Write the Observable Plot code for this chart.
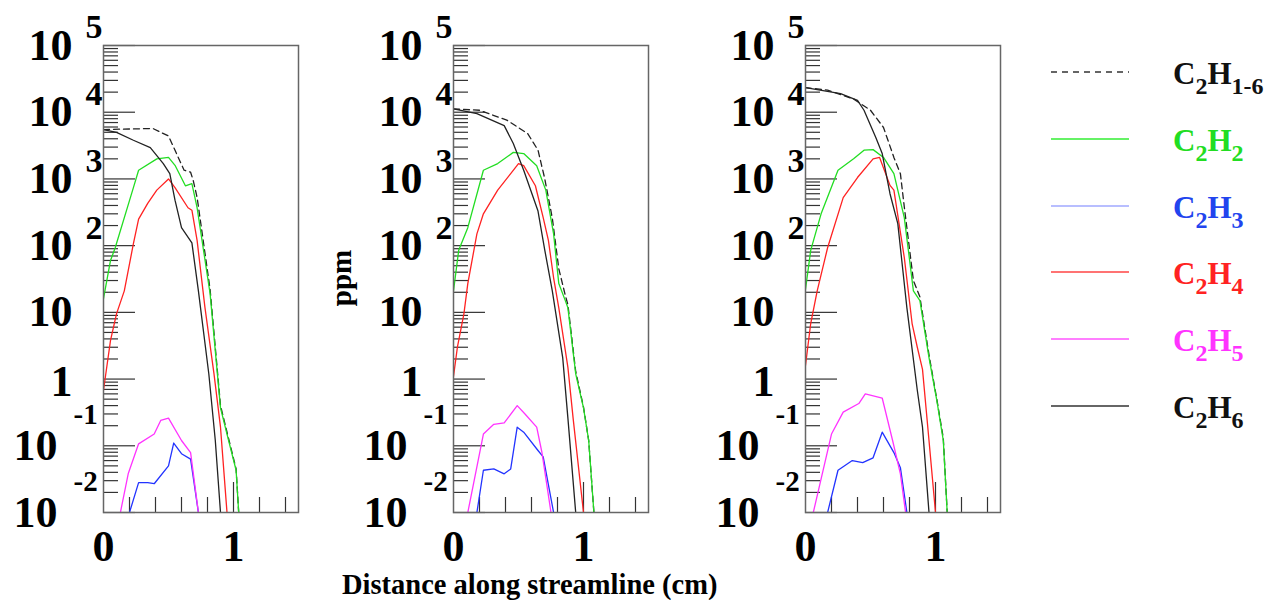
<!DOCTYPE html>
<html><head><meta charset="utf-8">
<script src="https://cdn.jsdelivr.net/npm/d3@7"></script>
<script src="https://cdn.jsdelivr.net/npm/@observablehq/plot@0.6"></script>
<style>
body{margin:0;background:#fff;}
#wrap{position:relative;width:1265px;height:600px;overflow:hidden;font-family:"Liberation Serif","Times New Roman",serif;font-weight:bold;}
.panel{position:absolute;top:0;}
#xtitle{position:absolute;left:342px;top:571px;white-space:nowrap;font-size:28.5px;line-height:1;}
#ytitle{position:absolute;left:341px;top:278px;transform:translate(-50%,-50%) rotate(-90deg);white-space:nowrap;font-size:29px;line-height:1;}
#legend{position:absolute;left:1030px;top:0;}
</style></head><body>
<div id="wrap"><div id="xtitle">Distance along streamline (cm)</div><div id="ytitle">ppm</div></div>
<script>
// ---------- axis definitions ----------
const xDomain = [0, 1.5];
const yDomain = [0.01, 1e5];
const yDecades = [1e5, 1e4, 1e3, 1e2, 10, 1, 0.1, 0.01];
const yBase = ["10", "10", "10", "10", "10", "1", "10", "10"];
const yExp = ["5", "4", "3", "2", "", "", "-1", "-2"];
const xTickMinor = [0.2, 0.4, 0.6, 0.8, 1.2, 1.4];
const xTickMajor = [1];
const xLabelVals = [0, 1];
const xLabels = ["0", "1"];

// ---------- series: [distance (cm), ppm] ----------
const species = ["C2H1-6", "C2H2", "C2H3", "C2H4", "C2H5", "C2H6"];
const colors = ["#222222", "#22dd22", "#2233ff", "#ff2222", "#ff33ff", "#222222"];

// panel 1
const p1_total = [[0,5500],[0.2,5600],[0.38,5700],[0.5,4400],[0.62,1350],[0.67,1260],[0.69,950],[0.72,530],[0.82,22],[0.9,0.4],[0.95,0.16],[1.02,0.045],[1.04,0.01]];
const p1_C2H2 = [[0,16],[0.054,60],[0.09,93],[0.23,740],[0.27,1350],[0.41,2000],[0.5,2100],[0.55,1600],[0.63,790],[0.68,850],[0.72,370],[0.82,19],[0.9,0.37],[0.95,0.15],[1.02,0.043],[1.04,0.01]];
const p1_C2H3 = [[0.2,0.01],[0.27,0.028],[0.34,0.028],[0.39,0.027],[0.5,0.05],[0.54,0.11],[0.6,0.076],[0.67,0.063],[0.73,0.01]];
const p1_C2H4 = [[0,0.68],[0.054,3.8],[0.1,9.5],[0.16,21],[0.23,107],[0.27,250],[0.34,430],[0.41,680],[0.5,1000],[0.55,740],[0.65,370],[0.68,340],[0.72,120],[0.78,12],[0.85,1.2],[0.9,0.19],[0.95,0.01]];
const p1_C2H5 = [[0.13,0.01],[0.19,0.038],[0.27,0.107],[0.39,0.15],[0.44,0.24],[0.5,0.26],[0.6,0.12],[0.67,0.079],[0.73,0.01]];
const p1_C2H6 = [[0,5500],[0.1,5000],[0.23,3800],[0.36,2950],[0.46,1700],[0.51,1200],[0.55,480],[0.6,186],[0.68,110],[0.73,21],[0.81,1.2],[0.86,0.12],[0.9,0.01]];

// panel 2
const p2_total = [[0,11200],[0.2,10700],[0.41,7600],[0.57,4800],[0.65,2700],[0.7,1050],[0.76,260],[0.81,45],[0.86,18],[0.88,13],[0.94,1.3],[1.0,0.38],[1.04,0.12],[1.08,0.01]];
const p2_C2H2 = [[0,21],[0.04,85],[0.11,186],[0.23,1350],[0.34,1700],[0.46,2500],[0.54,2400],[0.64,1580],[0.71,680],[0.77,150],[0.81,27],[0.86,15],[0.88,11.7],[0.94,1.2],[1.0,0.37],[1.04,0.12],[1.08,0.01]];
const p2_C2H3 = [[0.18,0.01],[0.23,0.043],[0.31,0.045],[0.39,0.038],[0.44,0.045],[0.49,0.19],[0.54,0.16],[0.65,0.085],[0.69,0.068],[0.77,0.01]];
const p2_C2H4 = [[0,1.1],[0.03,3.0],[0.08,9.5],[0.11,27],[0.18,150],[0.23,300],[0.34,680],[0.44,1200],[0.5,1700],[0.54,1580],[0.63,790],[0.69,263],[0.73,120],[0.77,33],[0.81,11.7],[0.88,1.5],[0.92,0.26],[1.0,0.01]];
const p2_C2H5 = [[0.11,0.01],[0.23,0.15],[0.31,0.21],[0.39,0.22],[0.49,0.4],[0.55,0.3],[0.64,0.19],[0.68,0.08],[0.75,0.01]];
const p2_C2H6 = [[0,11200],[0.18,9500],[0.39,6300],[0.46,3400],[0.54,1350],[0.65,330],[0.7,90],[0.76,21],[0.84,2.1],[0.88,0.26],[0.94,0.01]];

// panel 3
const p3_total = [[0,23400],[0.17,21400],[0.37,15800],[0.5,10700],[0.6,5900],[0.68,2100],[0.73,1200],[0.76,380],[0.83,30],[0.88,17],[0.95,2.3],[1.01,0.5],[1.06,0.13],[1.09,0.01]];
const p3_C2H2 = [[0,22],[0.04,85],[0.12,300],[0.25,1350],[0.37,2000],[0.45,2700],[0.52,2750],[0.6,2100],[0.68,1200],[0.76,263],[0.83,21],[0.88,15],[0.95,2.1],[1.01,0.48],[1.06,0.12],[1.09,0.01]];
const p3_C2H3 = [[0.17,0.01],[0.25,0.043],[0.36,0.06],[0.44,0.056],[0.52,0.066],[0.59,0.16],[0.68,0.079],[0.73,0.047],[0.78,0.01]];
const p3_C2H4 = [[0,1.6],[0.04,6.8],[0.09,21],[0.17,93],[0.29,525],[0.4,1050],[0.52,2000],[0.57,2100],[0.65,800],[0.68,680],[0.76,66],[0.82,6.8],[0.86,3.0],[0.9,1.4],[0.95,0.12],[1.0,0.01]];
const p3_C2H5 = [[0.06,0.01],[0.2,0.15],[0.29,0.32],[0.41,0.43],[0.46,0.6],[0.59,0.52],[0.67,0.12],[0.73,0.038],[0.77,0.01]];
const p3_C2H6 = [[0,23400],[0.27,19000],[0.4,15100],[0.45,10700],[0.54,4200],[0.59,2400],[0.65,600],[0.71,214],[0.78,11.7],[0.86,0.68],[0.9,0.19],[0.95,0.01]];

const panels = [
  [p1_total, p1_C2H2, p1_C2H3, p1_C2H4, p1_C2H5, p1_C2H6],
  [p2_total, p2_C2H2, p2_C2H3, p2_C2H4, p2_C2H5, p2_C2H6],
  [p3_total, p3_C2H2, p3_C2H3, p3_C2H4, p3_C2H5, p3_C2H6]
];

// ---------- layout ----------
const FONT = "Liberation Serif, Times New Roman, serif";
const W = 350, H = 600, ML = 103, MR = 52, MT = 45, MB = 88;
const FW = W - ML - MR, FH = H - MT - MB;
const panelLefts = [0, 350, 702];

const minorVals = [];
for (let k = -2; k <= 4; k++) for (let m = 2; m <= 9; m++) minorVals.push(m * Math.pow(10, k));
const labelRows = yDecades.map((v, i) => ({v, b: yBase[i], e: yExp[i]}));
const posRows = labelRows.filter(d => !d.e.startsWith("-") && d.b === "10");
const oneRows = labelRows.filter(d => d.b === "1");
const negRows = labelRows.filter(d => d.e.startsWith("-"));

function makePanel(series) {
  const lineMarks = series.map((pts, i) =>
    Plot.line(pts, {
      x: d => d[0], y: d => d[1], stroke: colors[i], strokeWidth: 1.3,
      strokeDasharray: i === 0 ? "6,4" : null, clip: true
    })
  );
  return Plot.plot({
    width: W, height: H, marginLeft: ML, marginRight: MR, marginTop: MT, marginBottom: MB,
    x: {domain: xDomain, axis: null},
    y: {type: "log", domain: yDomain, axis: null},
    style: {background: "transparent", overflow: "visible"},
    marks: [
      Plot.tickY(minorVals, {y: d => d, stroke: "#333", strokeWidth: 1.2, insetRight: FW - 15}),
      Plot.tickY(yDecades, {y: d => d, stroke: "#333", strokeWidth: 1.2, insetRight: FW - 32}),
      Plot.tickX(xTickMinor, {x: d => d, stroke: "#333", strokeWidth: 1.2, insetTop: FH - 15}),
      Plot.tickX(xTickMajor, {x: d => d, stroke: "#333", strokeWidth: 1.2, insetTop: FH - 30}),
      ...lineMarks,
      Plot.frame({stroke: "#666", strokeWidth: 1.5}),
      Plot.text(posRows, {y: "v", text: "b", frameAnchor: "left", dx: -31, textAnchor: "end", fontSize: 44, fontWeight: "bold", fontFamily: FONT, fill: "#000"}),
      Plot.text(posRows, {y: "v", text: "e", frameAnchor: "left", dx: -18, dy: -18, textAnchor: "start", fontSize: 34, fontWeight: "bold", fontFamily: FONT, fill: "#000"}),
      Plot.text(oneRows, {y: "v", text: "b", frameAnchor: "left", dx: -31, dy: 3, textAnchor: "end", fontSize: 44, fontWeight: "bold", fontFamily: FONT, fill: "#000"}),
      Plot.text(negRows, {y: "v", text: "b", frameAnchor: "left", dx: -46, textAnchor: "end", fontSize: 44, fontWeight: "bold", fontFamily: FONT, fill: "#000"}),
      Plot.text(negRows, {y: "v", text: "e", frameAnchor: "left", dx: -30, dy: -31, textAnchor: "start", fontSize: 29, fontWeight: "bold", fontFamily: FONT, fill: "#000"}),
      Plot.text(xLabelVals, {x: d => d, text: (d, i) => xLabels[i], frameAnchor: "bottom", lineAnchor: "middle", dy: 34, fontSize: 44, fontWeight: "bold", fontFamily: FONT, fill: "#000"})
    ]
  });
}

const wrap = document.getElementById("wrap");
panels.forEach((series, i) => {
  const svg = makePanel(series);
  svg.classList.add("panel");
  svg.style.left = panelLefts[i] + "px";
  svg.style.position = "absolute";
  svg.style.top = "0px";
  wrap.appendChild(svg);
});

// ---------- legend ----------
const legendY = [72, 139, 206, 272, 339, 406];
const legendLabel = [["C", "2", "H", "1-6"], ["C", "2", "H", "2"], ["C", "2", "H", "3"], ["C", "2", "H", "4"], ["C", "2", "H", "5"], ["C", "2", "H", "6"]];
const legendLineColors = ["#333", "#33ee33", "#a0a8ff", "#ff4444", "#ff55ff", "#333"];
const legendTextColors = ["#111", "#22dd22", "#2244ee", "#ff2222", "#ff33ff", "#111"];
const leg = d3.create("svg").attr("id", "legend").attr("width", 235).attr("height", 600)
  .style("position", "absolute").style("left", "1030px").style("top", "0px");
species.forEach((s, i) => {
  const y = legendY[i];
  leg.append("line").attr("x1", 21).attr("x2", 99).attr("y1", y).attr("y2", y)
    .attr("stroke", legendLineColors[i]).attr("stroke-width", 1.6)
    .attr("stroke-dasharray", i === 0 ? "6,5" : null);
  const t = leg.append("text").attr("x", 143).attr("y", y + 12)
    .attr("fill", legendTextColors[i]).attr("font-family", FONT).attr("font-weight", "bold").attr("font-size", 31);
  const parts = legendLabel[i];
  t.append("tspan").text(parts[0]);
  t.append("tspan").attr("dy", 10).attr("font-size", 24).text(parts[1]);
  t.append("tspan").attr("dy", -10).text(parts[2]);
  t.append("tspan").attr("dy", 10).attr("font-size", 24).text(parts[3]);
});
wrap.appendChild(leg.node());
</script>
</body></html>
